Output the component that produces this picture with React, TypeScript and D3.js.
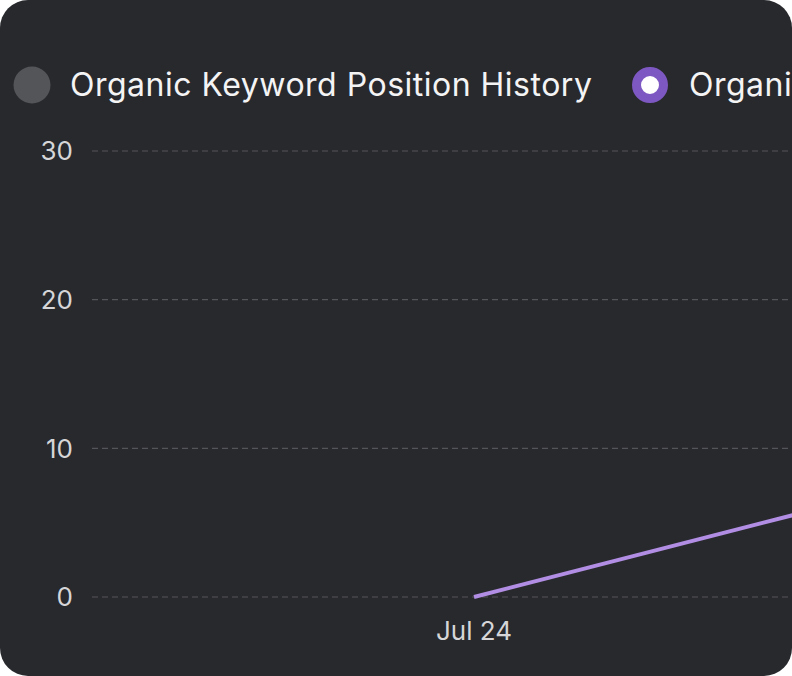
import * as d3 from "d3";

// chart data
const dates = ["2024-07-24", "2024-07-25"];
const positions = [0, 6.6];
const yTicks = [0, 10, 20, 30];
const xTickLabels = ["Jul 24"];
const legendLabels = ["Organic Keyword Position History", "Organic Keyword Position History"];

export default function App() {
  const width = 792;
  const height = 676;
  const marginLeft = 92;
  const marginTop = 151;
  const marginBottom = 79;

  const parse = d3.timeParse("%Y-%m-%d");
  const points = dates.map((d, i) => ({ date: parse(d)!, value: positions[i] }));

  // x: only the first day is on screen, the next one sits past the right edge
  const x = d3
    .scaleTime()
    .domain([points[0].date, points[1].date])
    .range([474, 856]);

  const y = d3
    .scaleLinear()
    .domain([0, 30])
    .range([height - marginBottom, marginTop]);

  const line = d3
    .line<{ date: Date; value: number }>()
    .x((d) => x(d.date))
    .y((d) => y(d.value));

  const font = "Inter, 'Noto Sans', sans-serif";

  return (
    <svg
      width={width}
      height={height}
      style={{ position: "absolute", left: 0, top: 0, display: "block" }}
    >
      <rect x={0} y={0} width={width} height={height} rx={28} ry={28} fill="#28292d" />

      {/* Legend */}
      <g fontFamily={font}>
        <circle cx={32} cy={85} r={18.5} fill="#545559" />
        <text x={70} y={96} fontSize={32} letterSpacing={0.5} fill="#f4f4f5">
          {legendLabels[0]}
        </text>
        <circle cx={650} cy={85} r={13.5} fill="#ffffff" stroke="#7e58c2" strokeWidth={9} />
        <text x={689} y={96} fontSize={32} letterSpacing={0.5} fill="#f4f4f5">
          {legendLabels[1]}
        </text>
      </g>

      {/* Y grid + labels */}
      <g fontFamily={font}>
        {yTicks.map((t) => (
          <g key={t}>
            <line
              x1={marginLeft}
              x2={width}
              y1={y(t)}
              y2={y(t)}
              stroke="#54555a"
              strokeWidth={1.2}
              strokeDasharray="6 4"
            />
            <text
              x={73}
              y={y(t)}
              dy="0.36em"
              textAnchor="end"
              fontSize={26}
              fill="#d6d6d8"
            >
              {t}
            </text>
          </g>
        ))}
      </g>

      {/* X labels */}
      <g fontFamily={font}>
        {xTickLabels.map((label, i) => (
          <text
            key={label}
            x={x(points[i].date)}
            y={640}
            textAnchor="middle"
            fontSize={26}
            fill="#d6d6d8"
          >
            {label}
          </text>
        ))}
      </g>

      {/* Line */}
      <path
        d={line(points) ?? ""}
        fill="none"
        stroke="#b18de3"
        strokeWidth={4}
        strokeLinecap="butt"
      />
    </svg>
  );
}
